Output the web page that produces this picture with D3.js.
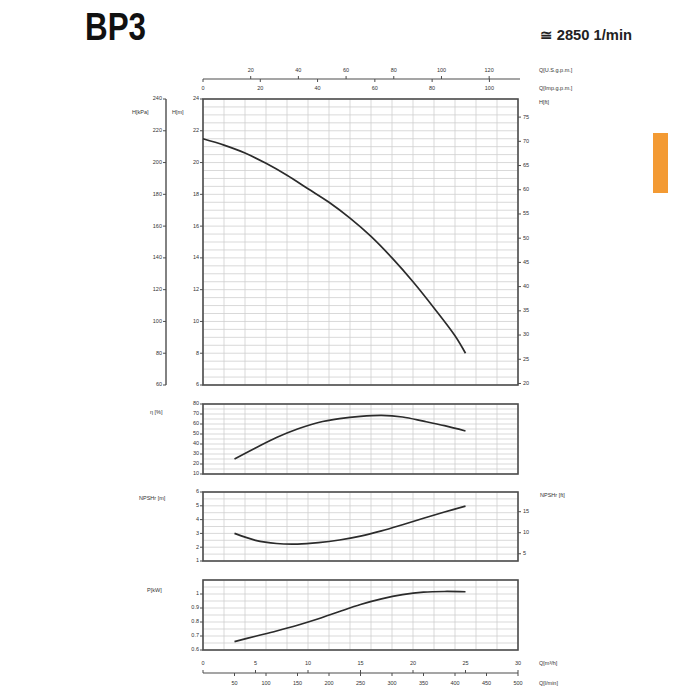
<!DOCTYPE html>
<html>
<head>
<meta charset="utf-8">
<script src="https://cdnjs.cloudflare.com/ajax/libs/d3/7.8.5/d3.min.js"></script>
<style>
  body { margin: 0; background: #fff; }
  svg text { font-family: "Liberation Sans", Arial, sans-serif; }
</style>
</head>
<body>
<div class="graph"></div>
<script>
// flow points (m3/h)
var qHead = [0, 2, 4, 6, 8, 10, 12, 14, 16, 18, 20, 22, 24, 25];
var headM = [21.5, 21.1, 20.6, 19.95, 19.2, 18.35, 17.5, 16.5, 15.35, 14.0, 12.5, 10.85, 9.1, 8.0];
var qCurve = [3, 5, 7, 9, 11, 13, 15, 17, 19, 21, 23, 25];
var effPct = [25, 36, 46.5, 55, 61.5, 65.3, 67.6, 68.6, 67, 62.8, 58.3, 53];
var npshM = [3.0, 2.5, 2.27, 2.23, 2.33, 2.52, 2.8, 3.18, 3.63, 4.1, 4.55, 4.98];
var powerKw = [0.66, 0.698, 0.736, 0.777, 0.823, 0.875, 0.925, 0.965, 0.995, 1.013, 1.018, 1.016];

// tick labels
var qM3hTicks = [0, 5, 10, 15, 20, 25, 30];
var qLminTicks = [50, 100, 150, 200, 250, 300, 350, 400, 450, 500];
var qUsTicks = [20, 40, 60, 80, 100, 120];
var qImpTicks = [0, 20, 40, 60, 80, 100];
var hMTicks = [6, 8, 10, 12, 14, 16, 18, 20, 22, 24];
var hKpaTicks = [60, 80, 100, 120, 140, 160, 180, 200, 220, 240];
var hFtTicks = [20, 25, 30, 35, 40, 45, 50, 55, 60, 65, 70, 75];
var effTicks = [10, 20, 30, 40, 50, 60, 70, 80];
var npshTicks = [1, 2, 3, 4, 5, 6];
var npshFtTicks = [5, 10, 15];
var powerTicks = [0.6, 0.7, 0.8, 0.9, 1];

var svg = d3.select(".graph").append("svg").attr("width", 700).attr("height", 700);

var frameColor = "#4d4d4d", gridColor = "#cfcfcf", textColor = "#333";

// scales
var x = d3.scaleLinear().domain([0, 30]).range([203, 518]);
var xLmin = d3.scaleLinear().domain([0, 500]).range([203, 518]);
var xUs = d3.scaleLinear().domain([0, 30 * 4.403]).range([203, 518]);
var xImp = d3.scaleLinear().domain([0, 30 * 3.666]).range([203, 518]);

var yH = d3.scaleLinear().domain([6, 24]).range([385, 99]);
var yKpa = d3.scaleLinear().domain([60, 240]).range([385, 99]);
var yFt = d3.scaleLinear().domain([6 * 3.2808, 24 * 3.2808]).range([385, 99]);
var yEff = d3.scaleLinear().domain([10, 80]).range([474, 404]);
var yNpsh = d3.scaleLinear().domain([1, 6]).range([561, 492]);
var yNpshFt = d3.scaleLinear().domain([3.2808, 6 * 3.2808]).range([561, 492]);
var yPow = d3.scaleLinear().domain([0.6, 1.1]).range([650, 580]);

// title (condensed look via textLength)
svg.append("text").attr("x", 85).attr("y", 40)
  .attr("textLength", 61).attr("lengthAdjust", "spacingAndGlyphs")
  .style("font-weight", "bold").style("font-size", "39px").attr("fill", "#111").text("BP3");
svg.append("text").attr("x", 540).attr("y", 40)
  .attr("textLength", 92).attr("lengthAdjust", "spacingAndGlyphs")
  .style("font-weight", "bold").style("font-size", "14px").attr("fill", "#222").text("≅ 2850 1/min");

// orange tab on the right
svg.append("rect").attr("x", 653).attr("y", 133).attr("width", 15).attr("height", 60).attr("fill", "#f39a33");

function small(g, tx, ty, s, anchor) {
  return g.append("text").attr("x", tx).attr("y", ty).attr("text-anchor", anchor || "start")
    .attr("dominant-baseline", "middle").style("font-size", "5.5px").attr("fill", textColor).text(s);
}

// panel: grid + frame
function panel(y, hStep, y0, y1) {
  var g = svg.append("g");
  var vx = d3.range(0, 30.01, 2);
  g.selectAll(".v").data(vx).enter().append("line")
    .attr("x1", d => x(d)).attr("x2", d => x(d)).attr("y1", y(y0)).attr("y2", y(y1))
    .attr("stroke", gridColor).attr("stroke-width", 0.8);
  var hy = d3.range(y0, y1 + 1e-9, hStep);
  g.selectAll(".h").data(hy).enter().append("line")
    .attr("x1", x(0)).attr("x2", x(30)).attr("y1", d => y(d)).attr("y2", d => y(d))
    .attr("stroke", gridColor).attr("stroke-width", 0.8);
  g.append("rect").attr("x", x(0)).attr("y", y(y1)).attr("width", x(30) - x(0)).attr("height", y(y0) - y(y1))
    .attr("fill", "none").attr("stroke", frameColor).attr("stroke-width", 1.6);
  return g;
}

function leftTicks(g, y, ticks, xPos) {
  ticks.forEach(function (t) {
    g.append("line").attr("x1", xPos - 3).attr("x2", xPos).attr("y1", y(t)).attr("y2", y(t))
      .attr("stroke", frameColor).attr("stroke-width", 1);
    small(g, xPos - 4, y(t), t, "end");
  });
}

function rightTicks(g, y, ticks, xPos) {
  ticks.forEach(function (t) {
    g.append("line").attr("x1", xPos).attr("x2", xPos + 3).attr("y1", y(t)).attr("y2", y(t))
      .attr("stroke", frameColor).attr("stroke-width", 1);
    small(g, xPos + 5, y(t), t, "start");
  });
}

function curve(qs, vals, y) {
  var line = d3.line().x(function (d, i) { return x(qs[i]); }).y(function (d) { return y(d); })
    .curve(d3.curveCatmullRom);
  svg.append("path").datum(vals).attr("d", line).attr("fill", "none")
    .attr("stroke", "#2b2b2b").attr("stroke-width", 1.7);
}

// main head panel
var gMain = panel(yH, 0.5, 6, 24);
leftTicks(gMain, yH, hMTicks, x(0));
rightTicks(gMain, yFt, hFtTicks, x(30));
// kPa axis
var gKpa = svg.append("g");
gKpa.append("line").attr("x1", 166).attr("x2", 166).attr("y1", 99).attr("y2", 385)
  .attr("stroke", frameColor).attr("stroke-width", 1.4);
leftTicks(gKpa, yKpa, hKpaTicks, 166);
small(svg, 132, 113, "H[kPa]");
small(svg, 172, 113, "H[m]");
small(svg, 539, 103, "H[ft]");
curve(qHead, headM, yH);

// top flow axes
var gTop = svg.append("g");
gTop.append("line").attr("x1", 203).attr("x2", 520).attr("y1", 79).attr("y2", 79)
  .attr("stroke", frameColor).attr("stroke-width", 1.2);
qUsTicks.forEach(function (t) {
  gTop.append("line").attr("x1", xUs(t)).attr("x2", xUs(t)).attr("y1", 76).attr("y2", 79).attr("stroke", frameColor);
  small(gTop, xUs(t), 71, t, "middle");
});
qImpTicks.forEach(function (t) {
  gTop.append("line").attr("x1", xImp(t)).attr("x2", xImp(t)).attr("y1", 79).attr("y2", 82).attr("stroke", frameColor);
  small(gTop, xImp(t), 89, t, "middle");
});
small(svg, 539, 71, "Q[U.S.g.p.m.]");
small(svg, 539, 89, "Q[Imp.g.p.m.]");

// efficiency panel
var gEff = panel(yEff, 5, 10, 80);
leftTicks(gEff, yEff, effTicks, x(0));
small(svg, 150, 413, "η [%]");
curve(qCurve, effPct, yEff);

// npsh panel
var gNp = panel(yNpsh, 0.5, 1, 6);
leftTicks(gNp, yNpsh, npshTicks, x(0));
rightTicks(gNp, yNpshFt, npshFtTicks, x(30));
small(svg, 139, 499, "NPSHr [m]");
small(svg, 540, 496, "NPSHr [ft]");
curve(qCurve, npshM, yNpsh);

// power panel
var gPow = panel(yPow, 0.05, 0.6, 1.1);
leftTicks(gPow, yPow, powerTicks, x(0));
small(svg, 147, 591, "P[kW]");
curve(qCurve, powerKw, yPow);

// bottom flow axes
var gBot = svg.append("g");
gBot.append("line").attr("x1", 203).attr("x2", 518).attr("y1", 673).attr("y2", 673)
  .attr("stroke", frameColor).attr("stroke-width", 1.2);
qM3hTicks.forEach(function (t) {
  gBot.append("line").attr("x1", x(t)).attr("x2", x(t)).attr("y1", 670).attr("y2", 673).attr("stroke", frameColor);
  small(gBot, x(t), 664, t, "middle");
});
qLminTicks.forEach(function (t) {
  gBot.append("line").attr("x1", xLmin(t)).attr("x2", xLmin(t)).attr("y1", 673).attr("y2", 676).attr("stroke", frameColor);
  small(gBot, xLmin(t), 684, t, "middle");
});
small(svg, 539, 664, "Q[m³/h]");
small(svg, 539, 684, "Q[l/min]");
</script>
</body>
</html>
